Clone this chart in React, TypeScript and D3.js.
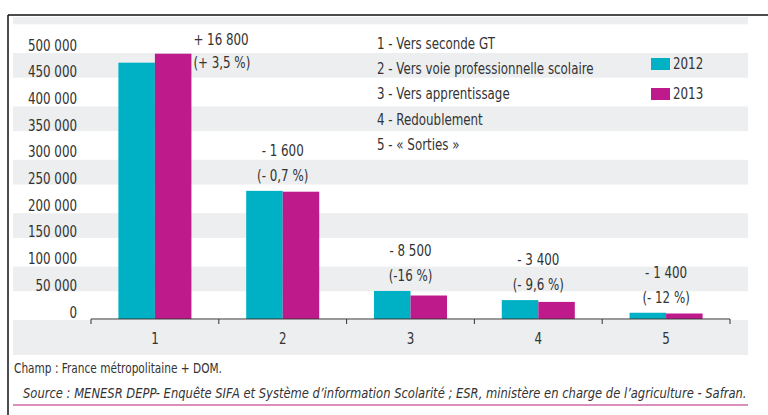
import React from "react";
import * as d3 from "d3";

const categories = ["1", "2", "3", "4", "5"];
const seriesNames = ["2012", "2013"];
const values2012 = [480000, 240000, 52500, 35400, 11700];
const values2013 = [496800, 238400, 44000, 32000, 10300];
const changeAbs = ["+ 16 800", "- 1 600", "- 8 500", "- 3 400", "- 1 400"];
const changePct = ["(+ 3,5 %)", "(- 0,7 %)", "(-16 %)", "(- 9,6 %)", "(- 12 %)"];
const yTicks = [0, 50000, 100000, 150000, 200000, 250000, 300000, 350000, 400000, 450000, 500000];
const legendItems = [
  "1 - Vers seconde GT",
  "2 - Vers voie professionnelle scolaire",
  "3 - Vers apprentissage",
  "4 - Redoublement",
  "5 - « Sorties »",
];
const noteText = "Champ : France métropolitaine + DOM.";
const sourceText =
  "Source : MENESR DEPP- Enquête SIFA et Système d’information Scolarité ; ESR, ministère en charge de l’agriculture - Safran.";

const COLORS = ["#00B1C5", "#BE1A8C"];
const FONT = "'DejaVu Sans Condensed', 'Liberation Sans Narrow', 'Roboto Condensed', sans-serif";
const TXT = "#333";
const STRIPE = "#EDEEF0";
const SX = 0.88;

function CText(props: {
  x: number;
  y: number;
  size?: number;
  anchor?: "start" | "middle" | "end";
  italic?: boolean;
  sx?: number;
  children: React.ReactNode;
}) {
  const { x, y, size = 15, anchor = "start", italic = false, sx = SX, children } = props;
  return (
    <text
      transform={`translate(${x},${y}) scale(${sx},1)`}
      textAnchor={anchor}
      fontSize={size}
      fill={TXT}
      fontStyle={italic ? "italic" : "normal"}
    >
      {children}
    </text>
  );
}

export default function App() {
  const W = 768, H = 415;
  const y = d3.scaleLinear().domain([0, 500000]).range([319, 52]);
  const x0 = d3.scaleBand<string>().domain(categories).range([91, 730]);
  const x1 = d3.scaleBand<string>().domain(seriesNames).range([0, x0.bandwidth()]).paddingOuter(0.75);
  const series = [values2012, values2013];
  const fmt = (v: number) => d3.format(",")(v).replace(/,/g, " ");

  const stripeStarts = [550000, 450000, 350000, 250000, 150000, 50000];

  return (
    <svg width={W} height={H} style={{ position: "absolute", left: 0, top: 0, background: "#fff" }} fontFamily={FONT}>
      {stripeStarts.map((v) => {
        const top = Math.max(17, y(v + 50000) + 1);
        const bot = y(v) - 1;
        return <rect key={v} x={13} y={top} width={735} height={bot - top} fill={STRIPE} />;
      })}
      <rect x={13} y={320} width={735} height={35} fill={STRIPE} />

      <line x1={8} x2={768} y1={15} y2={15} stroke="#111" strokeWidth={1.5} />
      <line x1={8} x2={8} y1={15} y2={415} stroke="#111" strokeWidth={1.5} />

      {yTicks.map((t) => (
        <CText key={t} x={77} y={y(t) - 1.5} anchor="end">
          {fmt(t)}
        </CText>
      ))}

      {categories.map((c, i) => (
        <g key={c} transform={`translate(${x0(c)},0)`}>
          {seriesNames.map((s, j) => (
            <rect
              key={s}
              x={x1(s)}
              y={y(series[j][i])}
              width={x1.bandwidth()}
              height={y(0) - y(series[j][i])}
              fill={COLORS[j]}
            />
          ))}
        </g>
      ))}

      <line x1={x0.range()[0]} x2={x0.range()[1]} y1={y(0)} y2={y(0)} stroke="#333" strokeWidth={1} />
      {[...categories.map((c) => x0(c) as number), x0.range()[1]].map((xx, k) => (
        <line key={k} x1={xx} x2={xx} y1={y(0)} y2={y(0) + 5} stroke="#333" strokeWidth={1} />
      ))}
      {categories.map((c) => (
        <CText key={c} x={(x0(c) as number) + x0.bandwidth() / 2} y={343.5} anchor="middle">
          {c}
        </CText>
      ))}

      {categories.map((c, i) => {
        const top = Math.min(y(values2012[i]), y(values2013[i]));
        if (i === 0) {
          const xs = (x0(c) as number) + (x1(seriesNames[1]) as number) + x1.bandwidth() + 2;
          return (
            <g key={c}>
              <CText x={xs} y={top - 9}>{changeAbs[i]}</CText>
              <CText x={xs} y={top + 14}>{changePct[i]}</CText>
            </g>
          );
        }
        const cx = (x0(c) as number) + x0.bandwidth() / 2;
        return (
          <g key={c}>
            <CText x={cx} y={top - 35} anchor="middle">{changeAbs[i]}</CText>
            <CText x={cx} y={top - 10} anchor="middle">{changePct[i]}</CText>
          </g>
        );
      })}

      {legendItems.map((t, i) => (
        <CText key={t} x={377} y={49 + i * 25.2}>
          {t}
        </CText>
      ))}
      {seriesNames.map((s, j) => (
        <g key={s}>
          <rect x={651} y={58 + j * 30} width={19} height={12} fill={COLORS[j]} />
          <CText x={673} y={69 + j * 30}>{s}</CText>
        </g>
      ))}

      <CText x={14} y={373} size={14} sx={0.84}>{noteText}</CText>
      <CText x={23} y={398} size={14} italic sx={0.918}>{sourceText}</CText>
      <line x1={13} x2={748} y1={405} y2={405} stroke="#B5217F" strokeWidth={1.2} />
    </svg>
  );
}
